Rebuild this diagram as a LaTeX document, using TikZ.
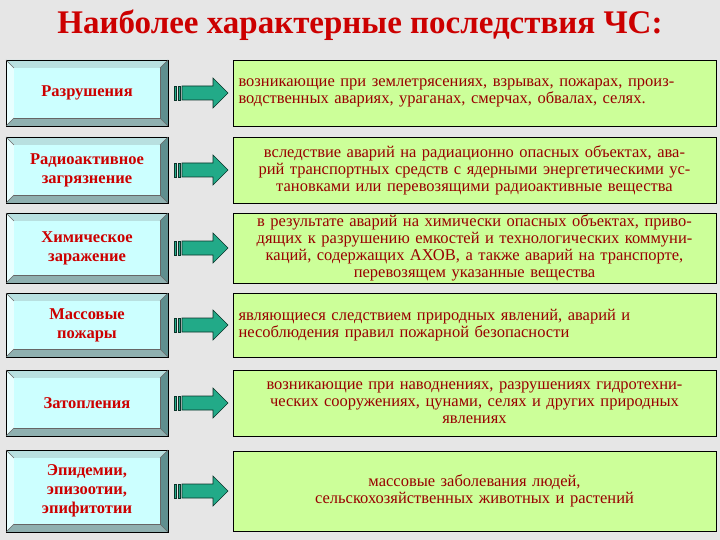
\documentclass[tikz,border=0pt]{standalone}
\usepackage{fontspec}
\setmainfont{Liberation Serif}
\definecolor{bg}{HTML}{E6E6E6}
\definecolor{face}{HTML}{CCFFFF}
\definecolor{bl}{HTML}{E8FFFF}
\definecolor{bt}{HTML}{B8E0E0}
\definecolor{br}{HTML}{5F8F8F}
\definecolor{bb}{HTML}{8FB0B0}
\definecolor{gfill}{HTML}{CCFF99}
\definecolor{dred}{HTML}{990000}
\definecolor{tred}{HTML}{CC0000}
\definecolor{arr}{HTML}{22AA88}
\tikzset{
  lab/.style={font=\fontsize{16.5}{19}\selectfont\bfseries, text=tred, align=center},
  gbox/.style={draw=black, fill=gfill, line width=0.8pt, minimum width=483pt, inner sep=0pt},
  gtxt/.style={font=\fontsize{16.5}{17}\selectfont, text=dred, text width=472pt},
  arrw/.style={fill=arr, draw=black!70!arr, line width=0.6pt},
}
\newcommand\bevrow[2]{% y1, y2
  \fill[bt] (6,#1) -- (168,#1) -- (160,#1+8) -- (14,#1+8) -- cycle;
  \fill[bl] (6,#1) -- (14,#1+8) -- (14,#2-8) -- (6,#2) -- cycle;
  \fill[br] (168,#1) -- (168,#2) -- (160,#2-8) -- (160,#1+8) -- cycle;
  \fill[bb] (6,#2) -- (14,#2-8) -- (160,#2-8) -- (168,#2) -- cycle;
  \draw[line width=0.5pt] (6,#1) rectangle (168,#2);
  \draw[line width=0.4pt,black!60] (14,#1+8) rectangle (160,#2-8);
  \draw[line width=0.4pt,black!60] (6,#1)--(14,#1+8) (168,#1)--(160,#1+8) (6,#2)--(14,#2-8) (168,#2)--(160,#2-8);
  \fill[face] (14.3,#1+8.3) rectangle (159.7,#2-8.3);
  \pgfmathsetmacro\ym{(#1+#2)/2}
  \draw[arrw] (174,\ym-7) rectangle (176,\ym+7);
  \draw[arrw] (178,\ym-7) rectangle (180,\ym+7);
  \draw[arrw] (182,\ym-7) -- (213,\ym-7) -- (213,\ym-15) -- (228,\ym) -- (213,\ym+15) -- (213,\ym+7) -- (182,\ym+7) -- cycle;
}
\begin{document}
\begin{tikzpicture}[x=1pt,y=-1pt]
\fill[bg] (0,0) rectangle (720,540);
\useasboundingbox (0,0) rectangle (720,540);
\node[font=\fontsize{33}{35}\selectfont\bfseries, text=tred] (title) at (360,25) {Наиболее характерные последствия ЧС:};
\bevrow{60}{126}\bevrow{137}{203}\bevrow{213}{283}\bevrow{293}{357}\bevrow{370}{436}\bevrow{450}{532}
\node[lab] (l1) at (87,93) {Разрушения};
\node[lab] (l2) at (87,170) {Радиоактивное\\загрязнение};
\node[lab] (l3) at (87,248) {Химическое\\заражение};
\node[lab] (l4) at (87,325) {Массовые\\пожары};
\node[lab] (l5) at (87,403) {Затопления};
\node[lab] (l6) at (87,491) {Эпидемии,\\эпизоотии,\\эпифитотии};
\node[gbox, minimum height=66pt] (g1) at (474.5,93) {};
\node[gbox, minimum height=66pt] (g2) at (474.5,170) {};
\node[gbox, minimum height=70pt] (g3) at (474.5,248) {};
\node[gbox, minimum height=64pt] (g4) at (474.5,325) {};
\node[gbox, minimum height=66pt] (g5) at (474.5,403) {};
\node[gbox, minimum height=80pt] (g6) at (474.5,491) {};
\node[gtxt, align=left] (t1) at (g1) {возникающие при землетрясениях, взрывах, пожарах, произ-\\водственных авариях, ураганах, смерчах, обвалах, селях.};
\node[gtxt, align=center] (t2) at (g2) {вследствие аварий на радиационно опасных объектах, ава-\\рий транспортных средств с ядерными энергетическими ус-\\тановками или перевозящими радиоактивные вещества};
\node[gtxt, align=center] (t3) at (g3) {в результате аварий на химически опасных объектах, приво-\\дящих к разрушению емкостей и технологических коммуни-\\каций, содержащих АХОВ, а также аварий на транспорте,\\перевозящем указанные вещества};
\node[gtxt, align=left] (t4) at (g4) {являющиеся следствием природных явлений, аварий и\\несоблюдения правил пожарной безопасности};
\node[gtxt, align=center] (t5) at (g5) {возникающие при наводнениях, разрушениях гидротехни-\\ческих сооружениях, цунами, селях и других природных\\явлениях};
\node[gtxt, align=center] (t6) at (g6) {массовые заболевания людей,\\сельскохозяйственных животных и растений};
\end{tikzpicture}
\end{document}
